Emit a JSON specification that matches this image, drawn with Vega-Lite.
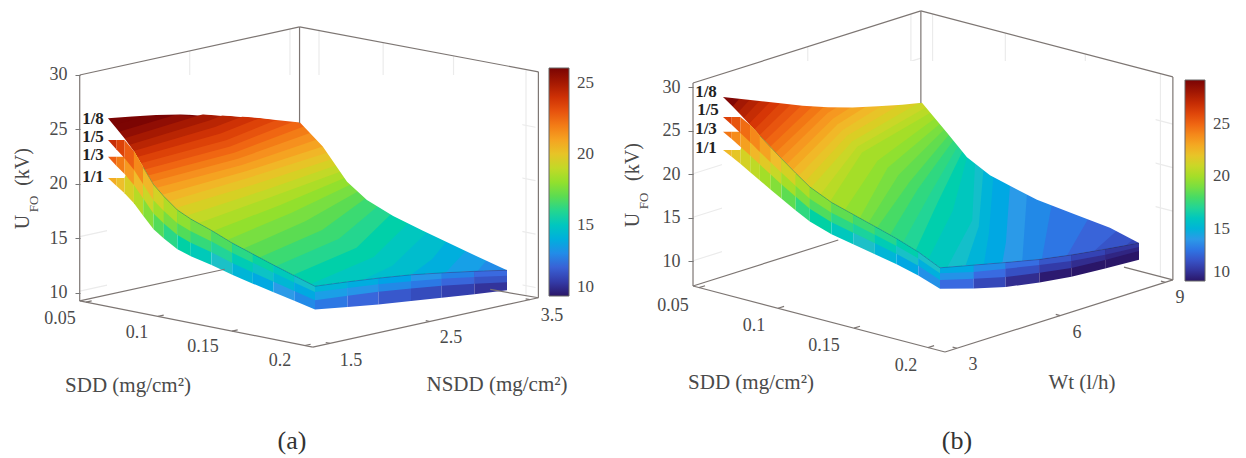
{"$schema":"https://vega.github.io/schema/vega-lite/v6.json","padding":0,"autosize":{"type":"pad"},"background":"white","spacing":8,"resolve":{"scale":{"color":"independent"},"legend":{"color":"independent"}},"config":{"view":{"stroke":null},"text":{"font":"Liberation Serif","color":"#444"}},
"datasets":{
"aIso":[{"L":26.5,"sdd":0.05,"x":1.5,"U":27.5},{"L":26.5,"sdd":0.2,"x":3.6,"U":24},
{"L":26,"sdd":0.0541,"x":1.5},{"L":26,"sdd":0.05,"x":1.9},{"L":26,"sdd":0.2,"x":3.6,"U":24},
{"L":25.5,"sdd":0.058,"x":1.5},{"L":25.5,"sdd":0.05,"x":2.206},{"L":25.5,"sdd":0.2,"x":3.6,"U":24},
{"L":25,"sdd":0.0622,"x":1.5},{"L":25,"sdd":0.05,"x":2.488},{"L":25,"sdd":0.2,"x":3.6,"U":24},
{"L":24.5,"sdd":0.0658,"x":1.5},{"L":24.5,"sdd":0.0539,"x":2.5},{"L":24.5,"sdd":0.05,"x":2.694},{"L":24.5,"sdd":0.2,"x":3.6,"U":24},
{"L":24,"sdd":0.0686,"x":1.5},{"L":24,"sdd":0.058,"x":2.5},{"L":24,"sdd":0.05,"x":2.9},{"L":24,"sdd":0.2,"x":3.6,"U":24},
{"L":23.5,"sdd":0.0712,"x":1.5},{"L":23.5,"sdd":0.0621,"x":2.5},{"L":23.5,"sdd":0.05,"x":3.08},{"L":23.5,"sdd":0.2,"x":3.6,"U":24},
{"L":23,"sdd":0.0738,"x":1.5},{"L":23,"sdd":0.0661,"x":2.5},{"L":23,"sdd":0.05,"x":3.26},{"L":23,"sdd":0.2,"x":3.6,"U":24},
{"L":22.5,"sdd":0.0765,"x":1.5},{"L":22.5,"sdd":0.069,"x":2.5},{"L":22.5,"sdd":0.05,"x":3.43},{"L":22.5,"sdd":0.2,"x":3.6,"U":24},
{"L":22,"sdd":0.0791,"x":1.5},{"L":22,"sdd":0.0719,"x":2.5},{"L":22,"sdd":0.0527,"x":3.5},{"L":22,"sdd":0.2,"x":3.6,"U":24},
{"L":21.5,"sdd":0.0817,"x":1.5},{"L":21.5,"sdd":0.0746,"x":2.5},{"L":21.5,"sdd":0.0573,"x":3.5},{"L":21.5,"sdd":0.2,"x":3.6,"U":24},
{"L":21,"sdd":0.0846,"x":1.5},{"L":21,"sdd":0.0775,"x":2.5},{"L":21,"sdd":0.0619,"x":3.5},{"L":21,"sdd":0.2,"x":3.6,"U":24},
{"L":20.5,"sdd":0.0893,"x":1.5},{"L":20.5,"sdd":0.0803,"x":2.5},{"L":20.5,"sdd":0.0665,"x":3.5},{"L":20.5,"sdd":0.2,"x":3.6,"U":24},
{"L":20,"sdd":0.0939,"x":1.5},{"L":20,"sdd":0.083,"x":2.5},{"L":20,"sdd":0.0696,"x":3.5},{"L":20,"sdd":0.2,"x":3.6,"U":24},
{"L":19.5,"sdd":0.0986,"x":1.5},{"L":19.5,"sdd":0.0873,"x":2.5},{"L":19.5,"sdd":0.0728,"x":3.5},{"L":19.5,"sdd":0.2,"x":3.6,"U":24},
{"L":19,"sdd":0.1066,"x":1.5},{"L":19,"sdd":0.0922,"x":2.5},{"L":19,"sdd":0.0759,"x":3.5},{"L":19,"sdd":0.2,"x":3.6,"U":24},
{"L":18.5,"sdd":0.1147,"x":1.5},{"L":18.5,"sdd":0.0971,"x":2.5},{"L":18.5,"sdd":0.079,"x":3.5},{"L":18.5,"sdd":0.2,"x":3.6,"U":24},
{"L":18,"sdd":0.1248,"x":1.5},{"L":18,"sdd":0.1048,"x":2.5},{"L":18,"sdd":0.0822,"x":3.5},{"L":18,"sdd":0.2,"x":3.6,"U":24},
{"L":17.5,"sdd":0.136,"x":1.5},{"L":17.5,"sdd":0.1131,"x":2.5},{"L":17.5,"sdd":0.0863,"x":3.5},{"L":17.5,"sdd":0.2,"x":3.6,"U":24},
{"L":17,"sdd":0.1478,"x":1.5},{"L":17,"sdd":0.1234,"x":2.5},{"L":17,"sdd":0.0918,"x":3.5},{"L":17,"sdd":0.2,"x":3.6,"U":24},
{"L":16.5,"sdd":0.1596,"x":1.5},{"L":16.5,"sdd":0.1356,"x":2.5},{"L":16.5,"sdd":0.0973,"x":3.5},{"L":16.5,"sdd":0.2,"x":3.6,"U":24},
{"L":16,"sdd":0.1715,"x":1.5},{"L":16,"sdd":0.1478,"x":2.5},{"L":16,"sdd":0.1061,"x":3.5},{"L":16,"sdd":0.2,"x":3.6,"U":24},
{"L":15.5,"sdd":0.1841,"x":1.5},{"L":15.5,"sdd":0.1605,"x":2.5},{"L":15.5,"sdd":0.1156,"x":3.5},{"L":15.5,"sdd":0.2,"x":3.6,"U":24},
{"L":15,"sdd":0.197,"x":1.5},{"L":15,"sdd":0.1733,"x":2.5},{"L":15,"sdd":0.1283,"x":3.5},{"L":15,"sdd":0.2,"x":3.6,"U":24},
{"L":14.5,"sdd":0.2,"x":2.0},{"L":14.5,"sdd":0.1865,"x":2.5},{"L":14.5,"sdd":0.1419,"x":3.5},{"L":14.5,"sdd":0.2,"x":3.6,"U":24},
{"L":14,"sdd":0.2,"x":2.5},{"L":14,"sdd":0.1806,"x":3.0},{"L":14,"sdd":0.1559,"x":3.5},{"L":14,"sdd":0.2,"x":3.6,"U":24},
{"L":13.5,"sdd":0.2,"x":2.86},{"L":13.5,"sdd":0.17,"x":3.5},{"L":13.5,"sdd":0.2,"x":3.6,"U":24},
{"L":13,"sdd":0.2,"x":3.19},{"L":13,"sdd":0.185,"x":3.5},{"L":13,"sdd":0.2,"x":3.6,"U":24}],
"aTop":[{"sdd":0.0493,"x":1.5,"U":26.54},{"sdd":0.05,"x":1.5,"U":26.54},{"sdd":0.05,"x":1.75,"U":26.2},{"sdd":0.05,"x":2.0,"U":25.87},{"sdd":0.05,"x":2.25,"U":25.42},{"sdd":0.05,"x":2.5,"U":24.98},{"sdd":0.05,"x":2.75,"U":24.36},{"sdd":0.05,"x":3.0,"U":23.75},{"sdd":0.05,"x":3.25,"U":23.0},{"sdd":0.05,"x":3.5,"U":22.3},{"sdd":0.0665,"x":3.5,"U":20.5},{"sdd":0.0841,"x":3.5,"U":17.7},{"sdd":0.0985,"x":3.5,"U":16.4},{"sdd":0.1175,"x":3.5,"U":15.4},{"sdd":0.1391,"x":3.5,"U":14.6},{"sdd":0.17,"x":3.5,"U":13.5},{"sdd":0.2,"x":3.5,"U":12.5},{"sdd":0.2,"x":3.66,"U":10.5}],
"aBot":[{"sdd":0.0493,"x":1.5,"U":26.54},{"sdd":0.05,"x":1.5,"U":26.54},{"sdd":0.056,"x":1.5,"U":25.76},{"sdd":0.062,"x":1.5,"U":24.98},{"sdd":0.0688,"x":1.5,"U":23.97},{"sdd":0.0755,"x":1.5,"U":22.68},{"sdd":0.083,"x":1.5,"U":21.27},{"sdd":0.0905,"x":1.5,"U":20.37},{"sdd":0.1003,"x":1.5,"U":19.37},{"sdd":0.11,"x":1.5,"U":18.79},{"sdd":0.125,"x":1.5,"U":18.12},{"sdd":0.14,"x":1.5,"U":17.34},{"sdd":0.155,"x":1.5,"U":16.7},{"sdd":0.17,"x":1.5,"U":16.07},{"sdd":0.185,"x":1.5,"U":15.47},{"sdd":0.2,"x":1.5,"U":14.88},{"sdd":0.2,"x":1.84,"U":14.63},{"sdd":0.2,"x":2.16,"U":14.35},{"sdd":0.2,"x":2.5,"U":14.0},{"sdd":0.2,"x":2.82,"U":13.56},{"sdd":0.2,"x":3.16,"U":13.05},{"sdd":0.2,"x":3.5,"U":12.5},{"sdd":0.2,"x":3.66,"U":14.5}],
"aSl":[
{"g":["a0"],"sdd":0.05,"x":1.5,"U":21.05,"T":21.05},{"g":["a0","a1"],"sdd":0.056,"x":1.5,"U":20.49,"T":21.2},{"g":["a1","a2"],"sdd":0.062,"x":1.5,"U":19.94,"T":21.35},{"g":["a2","a3"],"sdd":0.0688,"x":1.5,"U":19.2,"T":23.97},{"g":["a3","a4"],"sdd":0.0755,"x":1.5,"U":18.23,"T":22.68},{"g":["a4","a5"],"sdd":0.083,"x":1.5,"U":17.17,"T":21.27},{"g":["a5","a6"],"sdd":0.0905,"x":1.5,"U":16.51,"T":20.37},{"g":["a6","a7"],"sdd":0.1003,"x":1.5,"U":15.78,"T":19.37},{"g":["a7","a8"],"sdd":0.11,"x":1.5,"U":15.38,"T":18.79},{"g":["a8","a9"],"sdd":0.125,"x":1.5,"U":14.95,"T":18.12},{"g":["a9","a10"],"sdd":0.14,"x":1.5,"U":14.42,"T":17.34},{"g":["a10","a11"],"sdd":0.155,"x":1.5,"U":13.99,"T":16.7},{"g":["a11","a12"],"sdd":0.17,"x":1.5,"U":13.57,"T":16.07},{"g":["a12","a13"],"sdd":0.185,"x":1.5,"U":13.16,"T":15.47},{"g":["a13","a14"],"sdd":0.2,"x":1.5,"U":12.75,"T":14.88},{"g":["a14","a15"],"sdd":0.2,"x":1.84,"U":12.33,"T":14.63},{"g":["a15","a16"],"sdd":0.2,"x":2.16,"U":11.94,"T":14.35},{"g":["a16","a17"],"sdd":0.2,"x":2.5,"U":11.6,"T":14.0},{"g":["a17","a18"],"sdd":0.2,"x":2.82,"U":11.27,"T":13.56},{"g":["a18","a19"],"sdd":0.2,"x":3.16,"U":10.95,"T":13.05},{"g":["a19"],"sdd":0.2,"x":3.5,"U":10.65,"T":12.5},
{"g":["b0"],"sdd":0.05,"x":1.5,"U":23,"T":23},{"g":["b0","b1"],"sdd":0.056,"x":1.5,"U":22.33,"T":23.15},{"g":["b1","b2"],"sdd":0.062,"x":1.5,"U":21.71,"T":23.3},{"g":["b2","b3"],"sdd":0.0688,"x":1.5,"U":20.88,"T":23.97},{"g":["b3","b4"],"sdd":0.0755,"x":1.5,"U":19.81,"T":22.68},{"g":["b4","b5"],"sdd":0.083,"x":1.5,"U":18.63,"T":21.27},{"g":["b5","b6"],"sdd":0.0905,"x":1.5,"U":17.89,"T":20.37},{"g":["b6","b7"],"sdd":0.1003,"x":1.5,"U":17.07,"T":19.37},{"g":["b7","b8"],"sdd":0.11,"x":1.5,"U":16.62,"T":18.79},{"g":["b8","b9"],"sdd":0.125,"x":1.5,"U":16.12,"T":18.12},{"g":["b9","b10"],"sdd":0.14,"x":1.5,"U":15.51,"T":17.34},{"g":["b10","b11"],"sdd":0.155,"x":1.5,"U":15.02,"T":16.7},{"g":["b11","b12"],"sdd":0.17,"x":1.5,"U":14.53,"T":16.07},{"g":["b12","b13"],"sdd":0.185,"x":1.5,"U":14.06,"T":15.47},{"g":["b13","b14"],"sdd":0.2,"x":1.5,"U":13.6,"T":14.88},{"g":["b14","b15"],"sdd":0.2,"x":1.84,"U":13.36,"T":14.63},{"g":["b15","b16"],"sdd":0.2,"x":2.16,"U":13.1,"T":14.35},{"g":["b16","b17"],"sdd":0.2,"x":2.5,"U":12.75,"T":14.0},{"g":["b17","b18"],"sdd":0.2,"x":2.82,"U":12.38,"T":13.56},{"g":["b18","b19"],"sdd":0.2,"x":3.16,"U":11.9,"T":13.05},{"g":["b19"],"sdd":0.2,"x":3.5,"U":11.4,"T":12.5},
{"g":["c0"],"sdd":0.05,"x":1.5,"U":24.54,"T":24.54},{"g":["c0","c1"],"sdd":0.056,"x":1.5,"U":23.84,"T":24.69},{"g":["c1","c2"],"sdd":0.062,"x":1.5,"U":23.16,"T":24.84},{"g":["c2","c3"],"sdd":0.0688,"x":1.5,"U":22.27,"T":23.97},{"g":["c3","c4"],"sdd":0.0755,"x":1.5,"U":21.11,"T":22.68},{"g":["c4","c5"],"sdd":0.083,"x":1.5,"U":19.84,"T":21.27},{"g":["c5","c6"],"sdd":0.0905,"x":1.5,"U":19.04,"T":20.37},{"g":["c6","c7"],"sdd":0.1003,"x":1.5,"U":18.16,"T":19.37},{"g":["c7","c8"],"sdd":0.11,"x":1.5,"U":17.66,"T":18.79},{"g":["c8","c9"],"sdd":0.125,"x":1.5,"U":17.11,"T":18.12},{"g":["c9","c10"],"sdd":0.14,"x":1.5,"U":16.44,"T":17.34},{"g":["c10","c11"],"sdd":0.155,"x":1.5,"U":15.9,"T":16.7},{"g":["c11","c12"],"sdd":0.17,"x":1.5,"U":15.36,"T":16.07},{"g":["c12","c13"],"sdd":0.185,"x":1.5,"U":14.85,"T":15.47},{"g":["c13","c14"],"sdd":0.2,"x":1.5,"U":14.34,"T":14.88},{"g":["c14","c15"],"sdd":0.2,"x":1.84,"U":14.06,"T":14.63},{"g":["c15","c16"],"sdd":0.2,"x":2.16,"U":13.78,"T":14.35},{"g":["c16","c17"],"sdd":0.2,"x":2.5,"U":13.4,"T":14.0},{"g":["c17","c18"],"sdd":0.2,"x":2.82,"U":13.02,"T":13.56},{"g":["c18","c19"],"sdd":0.2,"x":3.16,"U":12.52,"T":13.05},{"g":["c19"],"sdd":0.2,"x":3.5,"U":12.0,"T":12.5}],
"aBox":[{"k":"1","sdd":0.0455,"x":1.27,"U":10.1},{"k":"1","sdd":0.0455,"x":1.27,"U":30.83},
{"k":"2","sdd":0.0455,"x":1.27,"U":30.83},{"k":"2","sdd":0.0455,"x":3.56,"U":30.83},
{"k":"3","sdd":0.0455,"x":3.56,"U":30.83},{"k":"3","sdd":0.0455,"x":3.56,"U":22.0},
{"k":"4","sdd":0.0455,"x":3.56,"U":30.83},{"k":"4","sdd":0.2144,"x":3.62,"U":30.83},
{"k":"5","sdd":0.2144,"x":3.62,"U":30.83},{"k":"5","sdd":0.2144,"x":3.62,"U":10.1},
{"k":"6","sdd":0.0455,"x":1.27,"U":10.1},{"k":"6","sdd":0.0455,"x":2.78,"U":10.1},
{"k":"7","sdd":0.0455,"x":1.27,"U":10.1},{"k":"7","sdd":0.2144,"x":1.27,"U":10.1},
{"k":"8","sdd":0.2144,"x":1.27,"U":10.1},{"k":"8","sdd":0.2144,"x":3.62,"U":10.1},
{"k":"9","sdd":0.1816,"x":3.59,"U":10.1},{"k":"9","sdd":0.2144,"x":3.62,"U":10.1},
{"k":"t1","sdd":0.05,"x":1.27,"U":10.1},{"k":"t1","sdd":0.05,"x":1.33,"U":10.1},
{"k":"t2","sdd":0.1022,"x":1.27,"U":10.1},{"k":"t2","sdd":0.1022,"x":1.33,"U":10.1},
{"k":"t3","sdd":0.1558,"x":1.27,"U":10.1},{"k":"t3","sdd":0.1558,"x":1.33,"U":10.1},
{"k":"t4","sdd":0.2087,"x":1.27,"U":10.1},{"k":"t4","sdd":0.2087,"x":1.33,"U":10.1},
{"k":"t5","sdd":0.2144,"x":1.448,"U":10.1},{"k":"t5","sdd":0.2114,"x":1.448,"U":10.1},
{"k":"t6","sdd":0.2144,"x":2.49,"U":10.1},{"k":"t6","sdd":0.2114,"x":2.49,"U":10.1},
{"k":"t7","sdd":0.2144,"x":3.53,"U":10.1},{"k":"t7","sdd":0.2114,"x":3.53,"U":10.1}],
"aGrid":[{"k":"g1","sdd":0.0455,"x":2.416,"U":30.83},{"k":"g1","sdd":0.0455,"x":2.416,"U":24.95},
{"k":"g2","sdd":0.0455,"x":3.46,"U":30.83},{"k":"g2","sdd":0.0455,"x":3.46,"U":22.4},
{"k":"g3","sdd":0.0575,"x":3.59,"U":30.83},{"k":"g3","sdd":0.0575,"x":3.59,"U":21.2},
{"k":"g4","sdd":0.104,"x":3.59,"U":30.83},{"k":"g4","sdd":0.104,"x":3.59,"U":15.26},
{"k":"g5","sdd":0.155,"x":3.59,"U":30.83},{"k":"g5","sdd":0.155,"x":3.59,"U":13.15},
{"k":"g6","sdd":0.2075,"x":3.59,"U":30.83},{"k":"g6","sdd":0.2075,"x":3.59,"U":10.1},
{"k":"h1","sdd":0.0575,"x":3.59,"U":25.8},{"k":"h1","sdd":0.2144,"x":3.59,"U":25.8},
{"k":"h2","sdd":0.068,"x":3.59,"U":20.9},{"k":"h2","sdd":0.2144,"x":3.59,"U":20.9},
{"k":"h3","sdd":0.101,"x":3.59,"U":16},{"k":"h3","sdd":0.2144,"x":3.59,"U":16},
{"k":"h4","sdd":0.1925,"x":3.59,"U":11.1},{"k":"h4","sdd":0.2144,"x":3.59,"U":11.1},
{"k":"l1","sdd":0.0455,"x":1.9,"U":25.8},{"k":"l1","sdd":0.0455,"x":3.56,"U":25.8},
{"k":"l2","sdd":0.0455,"x":1.27,"U":16},{"k":"l2","sdd":0.0455,"x":2.0,"U":16},
{"k":"l3","sdd":0.0455,"x":1.27,"U":11},{"k":"l3","sdd":0.0455,"x":2.46,"U":11}],
"aTxt":[{"t":"0.05","h":0.6,"v":7.61},{"t":"0.1","h":1.37,"v":6.33},{"t":"0.15","h":2.03,"v":5.05},{"t":"0.2","h":2.8,"v":3.76},{"t":"1.5","h":3.51,"v":3.76},{"t":"2.5","h":4.51,"v":5.87},{"t":"3.5","h":5.52,"v":7.89}],
"aTit":[{"t":"SDD (mg/cm²)","h":1.28,"v":1.47},{"t":"NSDD (mg/cm²)","h":4.97,"v":1.56}],
"aBold":[{"t":"1/8","h":0.93,"v":25.96},{"t":"1/5","h":0.93,"v":24.31},{"t":"1/3","h":0.93,"v":22.66},{"t":"1/1","h":0.93,"v":20.64}],
"bIso":[{"L":29,"sdd":0.05,"wt":3,"U":30.5},{"L":29,"sdd":0.2,"wt":9.36,"U":29.5},
{"L":28,"sdd":0.0567,"wt":3},{"L":28,"sdd":0.05,"wt":3.49},{"L":28,"sdd":0.2,"wt":9.36,"U":29.5},
{"L":27.5,"sdd":0.0605,"wt":3},{"L":27.5,"sdd":0.05,"wt":3.8},{"L":27.5,"sdd":0.2,"wt":9.36,"U":29.5},
{"L":27,"sdd":0.0643,"wt":3},{"L":27,"sdd":0.05,"wt":4.1},{"L":27,"sdd":0.2,"wt":9.36,"U":29.5},
{"L":26.5,"sdd":0.068,"wt":3},{"L":26.5,"sdd":0.05,"wt":4.41},{"L":26.5,"sdd":0.2,"wt":9.36,"U":29.5},
{"L":26,"sdd":0.0716,"wt":3},{"L":26,"sdd":0.05,"wt":4.72},{"L":26,"sdd":0.2,"wt":9.36,"U":29.5},
{"L":25.5,"sdd":0.0752,"wt":3},{"L":25.5,"sdd":0.05,"wt":5.05},{"L":25.5,"sdd":0.2,"wt":9.36,"U":29.5},
{"L":25,"sdd":0.0789,"wt":3},{"L":25,"sdd":0.05,"wt":5.38},{"L":25,"sdd":0.2,"wt":9.36,"U":29.5},
{"L":24.5,"sdd":0.0826,"wt":3},{"L":24.5,"sdd":0.05,"wt":5.71},{"L":24.5,"sdd":0.2,"wt":9.36,"U":29.5},
{"L":24,"sdd":0.0864,"wt":3},{"L":24,"sdd":0.05,"wt":6.04},{"L":24,"sdd":0.2,"wt":9.36,"U":29.5},
{"L":23.5,"sdd":0.0902,"wt":3},{"L":23.5,"sdd":0.0536,"wt":6},{"L":23.5,"sdd":0.05,"wt":6.46},{"L":23.5,"sdd":0.2,"wt":9.36,"U":29.5},
{"L":23,"sdd":0.0941,"wt":3},{"L":23,"sdd":0.0572,"wt":6},{"L":23,"sdd":0.05,"wt":6.88},{"L":23,"sdd":0.2,"wt":9.36,"U":29.5},
{"L":22.5,"sdd":0.0981,"wt":3},{"L":22.5,"sdd":0.0605,"wt":6},{"L":22.5,"sdd":0.05,"wt":7.33},{"L":22.5,"sdd":0.2,"wt":9.36,"U":29.5},
{"L":22,"sdd":0.1022,"wt":3},{"L":22,"sdd":0.0639,"wt":6},{"L":22,"sdd":0.05,"wt":7.78},{"L":22,"sdd":0.2,"wt":9.36,"U":29.5},
{"L":21.5,"sdd":0.1064,"wt":3},{"L":21.5,"sdd":0.0672,"wt":6},{"L":21.5,"sdd":0.05,"wt":8.34},{"L":21.5,"sdd":0.2,"wt":9.36,"U":29.5},
{"L":21,"sdd":0.1107,"wt":3},{"L":21,"sdd":0.0706,"wt":6},{"L":21,"sdd":0.05,"wt":8.9},{"L":21,"sdd":0.2,"wt":9.36,"U":29.5},
{"L":20.5,"sdd":0.1173,"wt":3},{"L":20.5,"sdd":0.074,"wt":6},{"L":20.5,"sdd":0.0529,"wt":9},{"L":20.5,"sdd":0.2,"wt":9.36,"U":29.5},
{"L":20,"sdd":0.124,"wt":3},{"L":20,"sdd":0.0773,"wt":6},{"L":20,"sdd":0.0558,"wt":9},{"L":20,"sdd":0.2,"wt":9.36,"U":29.5},
{"L":19.5,"sdd":0.1342,"wt":3},{"L":19.5,"sdd":0.088,"wt":6},{"L":19.5,"sdd":0.059,"wt":9},{"L":19.5,"sdd":0.2,"wt":9.36,"U":29.5},
{"L":19,"sdd":0.1445,"wt":3},{"L":19,"sdd":0.095,"wt":6},{"L":19,"sdd":0.0622,"wt":9},{"L":19,"sdd":0.2,"wt":9.36,"U":29.5},
{"L":18.5,"sdd":0.1498,"wt":3},{"L":18.5,"sdd":0.1025,"wt":6},{"L":18.5,"sdd":0.0653,"wt":9},{"L":18.5,"sdd":0.2,"wt":9.36,"U":29.5},
{"L":18,"sdd":0.155,"wt":3},{"L":18,"sdd":0.11,"wt":6},{"L":18,"sdd":0.0685,"wt":9},{"L":18,"sdd":0.2,"wt":9.36,"U":29.5},
{"L":17.5,"sdd":0.164,"wt":3},{"L":17.5,"sdd":0.116,"wt":6},{"L":17.5,"sdd":0.0716,"wt":9},{"L":17.5,"sdd":0.2,"wt":9.36,"U":29.5},
{"L":17,"sdd":0.173,"wt":3},{"L":17,"sdd":0.1235,"wt":6},{"L":17,"sdd":0.0748,"wt":9},{"L":17,"sdd":0.2,"wt":9.36,"U":29.5},
{"L":16.5,"sdd":0.182,"wt":3},{"L":16.5,"sdd":0.1295,"wt":6},{"L":16.5,"sdd":0.0779,"wt":9},{"L":16.5,"sdd":0.2,"wt":9.36,"U":29.5},
{"L":16,"sdd":0.191,"wt":3},{"L":16,"sdd":0.14,"wt":6},{"L":16,"sdd":0.0811,"wt":9},{"L":16,"sdd":0.2,"wt":9.36,"U":29.5},
{"L":15.5,"sdd":0.2,"wt":3.22},{"L":15.5,"sdd":0.1535,"wt":6},{"L":15.5,"sdd":0.0867,"wt":9},{"L":15.5,"sdd":0.2,"wt":9.36,"U":29.5},
{"L":15,"sdd":0.2,"wt":3.77},{"L":15,"sdd":0.158,"wt":6},{"L":15,"sdd":0.0924,"wt":9},{"L":15,"sdd":0.2,"wt":9.36,"U":29.5},
{"L":14.5,"sdd":0.2,"wt":4.32},{"L":14.5,"sdd":0.165,"wt":6},{"L":14.5,"sdd":0.0993,"wt":9},{"L":14.5,"sdd":0.2,"wt":9.36,"U":29.5},
{"L":14,"sdd":0.2,"wt":4.88},{"L":14,"sdd":0.1768,"wt":6},{"L":14,"sdd":0.1108,"wt":9},{"L":14,"sdd":0.2,"wt":9.36,"U":29.5},
{"L":13.5,"sdd":0.2,"wt":5.48},{"L":13.5,"sdd":0.1225,"wt":9},{"L":13.5,"sdd":0.2,"wt":9.36,"U":29.5},
{"L":13,"sdd":0.2,"wt":6.07},{"L":13,"sdd":0.1395,"wt":9},{"L":13,"sdd":0.2,"wt":9.36,"U":29.5},
{"L":12.5,"sdd":0.2,"wt":6.83},{"L":12.5,"sdd":0.1647,"wt":9},{"L":12.5,"sdd":0.2,"wt":9.36,"U":29.5},
{"L":12,"sdd":0.2,"wt":7.63},{"L":12,"sdd":0.1844,"wt":9},{"L":12,"sdd":0.2,"wt":9.36,"U":29.5},
{"L":11.5,"sdd":0.2,"wt":8.61},{"L":11.5,"sdd":0.1955,"wt":9},{"L":11.5,"sdd":0.2,"wt":9.36,"U":29.5}],
"bTop":[{"sdd":0.0493,"wt":3,"U":28.8},{"sdd":0.05,"wt":3,"U":28.8},{"sdd":0.05,"wt":3.83,"U":27.45},{"sdd":0.05,"wt":4.66,"U":26.1},{"sdd":0.05,"wt":5.4,"U":24.9},{"sdd":0.05,"wt":6.17,"U":23.8},{"sdd":0.05,"wt":6.9,"U":22.9},{"sdd":0.05,"wt":7.67,"U":22.1},{"sdd":0.05,"wt":8.4,"U":21.4},{"sdd":0.05,"wt":9,"U":20.9},{"sdd":0.0575,"wt":9,"U":19.73},{"sdd":0.0673,"wt":9,"U":18.2},{"sdd":0.0811,"wt":9,"U":16},{"sdd":0.097,"wt":9,"U":14.6},{"sdd":0.1157,"wt":9,"U":13.79},{"sdd":0.1295,"wt":9,"U":13.2},{"sdd":0.155,"wt":9,"U":12.69},{"sdd":0.1799,"wt":9,"U":12.2},{"sdd":0.2,"wt":9,"U":11.3},{"sdd":0.2,"wt":9.5,"U":9.3}],
"bBot":[{"sdd":0.0493,"wt":3,"U":28.8},{"sdd":0.05,"wt":3,"U":28.8},{"sdd":0.056,"wt":3,"U":28.08},{"sdd":0.062,"wt":3,"U":27.3},{"sdd":0.0688,"wt":3,"U":26.39},{"sdd":0.0755,"wt":3,"U":25.46},{"sdd":0.083,"wt":3,"U":24.45},{"sdd":0.0905,"wt":3,"U":23.47},{"sdd":0.1003,"wt":3,"U":22.24},{"sdd":0.11,"wt":3,"U":21.08},{"sdd":0.125,"wt":3,"U":19.95},{"sdd":0.14,"wt":3,"U":19.22},{"sdd":0.155,"wt":3,"U":18.49},{"sdd":0.17,"wt":3,"U":17.75},{"sdd":0.185,"wt":3,"U":16.87},{"sdd":0.2,"wt":3,"U":15.7},{"sdd":0.2,"wt":4.02,"U":14.78},{"sdd":0.2,"wt":4.98,"U":13.92},{"sdd":0.2,"wt":6,"U":13.04},{"sdd":0.2,"wt":6.96,"U":12.4},{"sdd":0.2,"wt":7.98,"U":11.83},{"sdd":0.2,"wt":9,"U":11.3},{"sdd":0.2,"wt":9.5,"U":13.3}],
"bSl":[
{"g":["a0"],"sdd":0.05,"wt":3,"U":22.7,"T":22.7},{"g":["a0","a1"],"sdd":0.056,"wt":3,"U":22.19,"T":22.96},{"g":["a1","a2"],"sdd":0.062,"wt":3,"U":21.64,"T":23.22},{"g":["a2","a3"],"sdd":0.0688,"wt":3,"U":20.98,"T":26.39},{"g":["a3","a4"],"sdd":0.0755,"wt":3,"U":20.31,"T":25.46},{"g":["a4","a5"],"sdd":0.083,"wt":3,"U":19.57,"T":24.45},{"g":["a5","a6"],"sdd":0.0905,"wt":3,"U":18.86,"T":23.47},{"g":["a6","a7"],"sdd":0.1003,"wt":3,"U":17.95,"T":22.24},{"g":["a7","a8"],"sdd":0.11,"wt":3,"U":17.09,"T":21.08},{"g":["a8","a9"],"sdd":0.125,"wt":3,"U":16.29,"T":19.95},{"g":["a9","a10"],"sdd":0.14,"wt":3,"U":15.8,"T":19.22},{"g":["a10","a11"],"sdd":0.155,"wt":3,"U":15.31,"T":18.49},{"g":["a11","a12"],"sdd":0.17,"wt":3,"U":14.8,"T":17.75},{"g":["a12","a13"],"sdd":0.185,"wt":3,"U":14.16,"T":16.87},{"g":["a13","a14"],"sdd":0.2,"wt":3,"U":13.3,"T":15.7},{"g":["a14","a15"],"sdd":0.2,"wt":4.02,"U":12.1,"T":14.78},{"g":["a15","a16"],"sdd":0.2,"wt":4.98,"U":11.1,"T":13.92},{"g":["a16","a17"],"sdd":0.2,"wt":6,"U":10.4,"T":13.04},{"g":["a17","a18"],"sdd":0.2,"wt":6.96,"U":9.9,"T":12.4},{"g":["a18","a19"],"sdd":0.2,"wt":7.98,"U":9.6,"T":11.83},{"g":["a19"],"sdd":0.2,"wt":9,"U":9.4,"T":11.3},
{"g":["b0"],"sdd":0.05,"wt":3,"U":24.8,"T":24.8},{"g":["b0","b1"],"sdd":0.056,"wt":3,"U":24.23,"T":25.06},{"g":["b1","b2"],"sdd":0.062,"wt":3,"U":23.61,"T":25.32},{"g":["b2","b3"],"sdd":0.0688,"wt":3,"U":22.89,"T":26.39},{"g":["b3","b4"],"sdd":0.0755,"wt":3,"U":22.14,"T":25.46},{"g":["b4","b5"],"sdd":0.083,"wt":3,"U":21.32,"T":24.45},{"g":["b5","b6"],"sdd":0.0905,"wt":3,"U":20.52,"T":23.47},{"g":["b6","b7"],"sdd":0.1003,"wt":3,"U":19.52,"T":22.24},{"g":["b7","b8"],"sdd":0.11,"wt":3,"U":18.57,"T":21.08},{"g":["b8","b9"],"sdd":0.125,"wt":3,"U":17.68,"T":19.95},{"g":["b9","b10"],"sdd":0.14,"wt":3,"U":17.12,"T":19.22},{"g":["b10","b11"],"sdd":0.155,"wt":3,"U":16.57,"T":18.49},{"g":["b11","b12"],"sdd":0.17,"wt":3,"U":15.99,"T":17.75},{"g":["b12","b13"],"sdd":0.185,"wt":3,"U":15.28,"T":16.87},{"g":["b13","b14"],"sdd":0.2,"wt":3,"U":14.3,"T":15.7},{"g":["b14","b15"],"sdd":0.2,"wt":4.02,"U":13.2,"T":14.78},{"g":["b15","b16"],"sdd":0.2,"wt":4.98,"U":12.25,"T":13.92},{"g":["b16","b17"],"sdd":0.2,"wt":6,"U":11.5,"T":13.04},{"g":["b17","b18"],"sdd":0.2,"wt":6.96,"U":10.9,"T":12.4},{"g":["b18","b19"],"sdd":0.2,"wt":7.98,"U":10.6,"T":11.83},{"g":["b19"],"sdd":0.2,"wt":9,"U":10.4,"T":11.3},
{"g":["c0"],"sdd":0.05,"wt":3,"U":26.5,"T":26.5},{"g":["c0","c1"],"sdd":0.056,"wt":3,"U":25.88,"T":26.76},{"g":["c1","c2"],"sdd":0.062,"wt":3,"U":25.2,"T":27.02},{"g":["c2","c3"],"sdd":0.0688,"wt":3,"U":24.41,"T":26.39},{"g":["c3","c4"],"sdd":0.0755,"wt":3,"U":23.6,"T":25.46},{"g":["c4","c5"],"sdd":0.083,"wt":3,"U":22.71,"T":24.45},{"g":["c5","c6"],"sdd":0.0905,"wt":3,"U":21.85,"T":23.47},{"g":["c6","c7"],"sdd":0.1003,"wt":3,"U":20.76,"T":22.24},{"g":["c7","c8"],"sdd":0.11,"wt":3,"U":19.73,"T":21.08},{"g":["c8","c9"],"sdd":0.125,"wt":3,"U":18.75,"T":19.95},{"g":["c9","c10"],"sdd":0.14,"wt":3,"U":18.14,"T":19.22},{"g":["c10","c11"],"sdd":0.155,"wt":3,"U":17.53,"T":18.49},{"g":["c11","c12"],"sdd":0.17,"wt":3,"U":16.9,"T":17.75},{"g":["c12","c13"],"sdd":0.185,"wt":3,"U":16.13,"T":16.87},{"g":["c13","c14"],"sdd":0.2,"wt":3,"U":15.07,"T":15.7},{"g":["c14","c15"],"sdd":0.2,"wt":4.02,"U":14.0,"T":14.78},{"g":["c15","c16"],"sdd":0.2,"wt":4.98,"U":13.2,"T":13.92},{"g":["c16","c17"],"sdd":0.2,"wt":6,"U":12.4,"T":13.04},{"g":["c17","c18"],"sdd":0.2,"wt":6.96,"U":11.7,"T":12.4},{"g":["c18","c19"],"sdd":0.2,"wt":7.98,"U":11.2,"T":11.83},{"g":["c19"],"sdd":0.2,"wt":9,"U":10.85,"T":11.3}],
"bBox":[{"k":"1","sdd":0.0389,"wt":2.58,"U":7.1},{"k":"1","sdd":0.0389,"wt":2.58,"U":30.43},
{"k":"2","sdd":0.0389,"wt":2.58,"U":30.43},{"k":"2","sdd":0.0389,"wt":9.45,"U":30.43},
{"k":"3","sdd":0.0389,"wt":9.45,"U":30.43},{"k":"3","sdd":0.0389,"wt":9.45,"U":19.85},
{"k":"4","sdd":0.0389,"wt":9.45,"U":30.43},{"k":"4","sdd":0.2131,"wt":9.45,"U":30.43},
{"k":"5","sdd":0.2131,"wt":9.45,"U":30.43},{"k":"5","sdd":0.2131,"wt":9.45,"U":7.1},
{"k":"6","sdd":0.0389,"wt":2.58,"U":7.1},{"k":"6","sdd":0.0389,"wt":6.96,"U":7.1},
{"k":"7","sdd":0.0389,"wt":2.58,"U":7.1},{"k":"7","sdd":0.2131,"wt":2.58,"U":7.1},
{"k":"8","sdd":0.2131,"wt":2.58,"U":7.1},{"k":"8","sdd":0.2131,"wt":9.45,"U":7.1},
{"k":"9","sdd":0.1793,"wt":9.45,"U":7.1},{"k":"9","sdd":0.2131,"wt":9.45,"U":7.1},
{"k":"t1","sdd":0.0431,"wt":2.58,"U":7.1},{"k":"t1","sdd":0.0431,"wt":2.76,"U":7.1},
{"k":"t2","sdd":0.0977,"wt":2.58,"U":7.1},{"k":"t2","sdd":0.0977,"wt":2.76,"U":7.1},
{"k":"t3","sdd":0.1502,"wt":2.58,"U":7.1},{"k":"t3","sdd":0.1502,"wt":2.76,"U":7.1},
{"k":"t4","sdd":0.2014,"wt":2.58,"U":7.1},{"k":"t4","sdd":0.2014,"wt":2.76,"U":7.1},
{"k":"t5","sdd":0.2131,"wt":2.94,"U":7.1},{"k":"t5","sdd":0.2101,"wt":2.94,"U":7.1},
{"k":"t6","sdd":0.2131,"wt":6.05,"U":7.1},{"k":"t6","sdd":0.2101,"wt":6.05,"U":7.1},
{"k":"t7","sdd":0.2131,"wt":9.22,"U":7.1},{"k":"t7","sdd":0.2101,"wt":9.22,"U":7.1}],
"bGrid":[{"k":"g1","sdd":0.047,"wt":9.45,"U":30.43},{"k":"g1","sdd":0.047,"wt":9.45,"U":19.4},
{"k":"g2","sdd":0.0973,"wt":9.45,"U":30.43},{"k":"g2","sdd":0.0973,"wt":9.45,"U":13.08},
{"k":"g3","sdd":0.1526,"wt":9.45,"U":30.43},{"k":"g3","sdd":0.1526,"wt":9.45,"U":11.35},
{"k":"g4","sdd":0.2045,"wt":9.45,"U":30.43},{"k":"g4","sdd":0.2045,"wt":9.45,"U":7.1},
{"k":"g5","sdd":0.0389,"wt":6.04,"U":30.43},{"k":"g5","sdd":0.0389,"wt":6.04,"U":23.73},
{"k":"g6","sdd":0.0389,"wt":9.15,"U":30.43},{"k":"g6","sdd":0.0389,"wt":9.15,"U":20.2},
{"k":"h1","sdd":0.047,"wt":9.45,"U":25},{"k":"h1","sdd":0.2131,"wt":9.45,"U":25},
{"k":"h2","sdd":0.05,"wt":9.45,"U":20},{"k":"h2","sdd":0.2131,"wt":9.45,"U":20},
{"k":"h3","sdd":0.071,"wt":9.45,"U":15},{"k":"h3","sdd":0.2131,"wt":9.45,"U":15},
{"k":"l1","sdd":0.0389,"wt":5.22,"U":25},{"k":"l1","sdd":0.0389,"wt":9.45,"U":25},
{"k":"l2","sdd":0.0389,"wt":2.58,"U":20},{"k":"l2","sdd":0.0389,"wt":3.87,"U":20},
{"k":"l3","sdd":0.0389,"wt":2.58,"U":15},{"k":"l3","sdd":0.0389,"wt":4.9,"U":15},
{"k":"l4","sdd":0.0389,"wt":2.58,"U":10},{"k":"l4","sdd":0.0389,"wt":6,"U":10}],
"bTxt":[{"t":"0.05","h":0.49,"v":4.83},{"t":"0.1","h":1.3,"v":2.53},{"t":"0.15","h":2.0,"v":0.23},{"t":"0.2","h":2.82,"v":-2.07},{"t":"3","h":3.49,"v":-1.95},{"t":"6","h":4.53,"v":1.72},{"t":"9","h":5.56,"v":5.75}],
"bTit":[{"t":"SDD (mg/cm²)","h":1.27,"v":-4.02},{"t":"Wt (l/h)","h":4.58,"v":-4.02}],
"bBold":[{"t":"1/8","h":0.82,"v":29.4},{"t":"1/5","h":0.84,"v":27.3},{"t":"1/3","h":0.82,"v":25.17},{"t":"1/1","h":0.82,"v":22.99}]
},
"hconcat":[
{"width":615,"height":458,
"encoding":{"x":{"field":"h","type":"quantitative","scale":{"domain":[0,6.15],"nice":false,"zero":false},"axis":null},"y":{"field":"v","type":"quantitative","scale":{"domain":[-5.14,36.88],"nice":false,"zero":false},"stack":null,"axis":{"values":[10,15,20,25,30],"domain":false,"grid":false,"title":null,"offset":-80,"labelFont":"Liberation Serif","labelFontSize":18,"labelColor":"#4a4a4a","tickColor":"#777","tickSize":5,"labelPadding":8,"zindex":1}}},
"layer":[
{"data":{"name":"aGrid"},"transform":[{"calculate":"1.08+2.07*(datum.sdd-0.05)/0.15+1.92*(datum.x-1.5)/2","as":"h"},{"calculate":"datum.U-0.5-3.76*(datum.sdd-0.05)/0.15+3.85*(datum.x-1.5)/2","as":"v"}],"mark":{"type":"line","color":"#ebebeb","strokeWidth":1.2},"encoding":{"detail":{"field":"k"}}},
{"data":{"name":"aIso"},"transform":[{"calculate":"1.08+2.07*(datum.sdd-0.05)/0.15+1.92*(datum.x-1.5)/2","as":"h"},{"calculate":"(isValid(datum.U)?datum.U:datum.L)-0.5-3.76*(datum.sdd-0.05)/0.15+3.85*(datum.x-1.5)/2","as":"v"}],"mark":{"type":"area"},
"encoding":{"y2":{"datum":2},"detail":{"field":"L","type":"nominal"},
"color":{"field":"L","type":"quantitative","scale":{"type":"linear","clamp":true,"domain":[10,11.12,12.25,13.37,14.65,15.78,16.9,18.03,19.15,20.27,21.4,22.68,23.8,24.93,26.05],"range":["#2a1668","#3340b0","#3a6ae0","#2c9be8","#1fc0c8","#22d49a","#55dc55","#94e02c","#c8d828","#efbe2c","#f79420","#ee5e12","#d63606","#a81a02","#7a0403"]},"legend":{"title":null,"orient":"none","legendX":549,"legendY":68,"direction":"vertical","type":"gradient","gradientLength":228,"gradientThickness":20,"values":[10,15,20,25],"labelFont":"Liberation Serif","labelFontSize":17,"labelColor":"#4a4a4a","labelOffset":8,"gradientStrokeColor":"#666","gradientStrokeWidth":1}}}},
{"data":{"name":"aTop"},"transform":[{"calculate":"1.08+2.07*(datum.sdd-0.05)/0.15+1.92*(datum.x-1.5)/2","as":"h"},{"calculate":"datum.U-0.5-3.76*(datum.sdd-0.05)/0.15+3.85*(datum.x-1.5)/2","as":"v"}],"mark":{"type":"area","color":"white"},"encoding":{"y2":{"datum":30}}},
{"data":{"name":"aBot"},"transform":[{"calculate":"1.08+2.07*(datum.sdd-0.05)/0.15+1.92*(datum.x-1.5)/2","as":"h"},{"calculate":"datum.U-0.5-3.76*(datum.sdd-0.05)/0.15+3.85*(datum.x-1.5)/2","as":"v"}],"mark":{"type":"area","color":"white"},"encoding":{"y2":{"datum":1.5}}},
{"data":{"name":"aSl"},"transform":[{"flatten":["g"]},{"joinaggregate":[{"op":"mean","field":"U","as":"c"}],"groupby":["g"]},{"calculate":"1.08+2.07*(datum.sdd-0.05)/0.15+1.92*(datum.x-1.5)/2","as":"h"},{"calculate":"datum.U-0.5-3.76*(datum.sdd-0.05)/0.15+3.85*(datum.x-1.5)/2","as":"v"},{"calculate":"datum.T-0.5-3.76*(datum.sdd-0.05)/0.15+3.85*(datum.x-1.5)/2","as":"v2"}],"mark":{"type":"area"},"encoding":{"y2":{"field":"v2"},"detail":{"field":"g","type":"nominal"},
"color":{"field":"c","type":"quantitative","scale":{"type":"linear","clamp":true,"domain":[10,11.12,12.25,13.37,14.65,15.78,16.9,18.03,19.15,20.27,21.4,22.68,23.8,24.93,26.05],"range":["#2a1668","#3340b0","#3a6ae0","#2c9be8","#1fc0c8","#22d49a","#55dc55","#94e02c","#c8d828","#efbe2c","#f79420","#ee5e12","#d63606","#a81a02","#7a0403"]},"legend":null}}},
{"data":{"name":"aBot"},"transform":[{"filter":"datum.x<=3.5&&datum.sdd>=0.07"},{"calculate":"1.08+2.07*(datum.sdd-0.05)/0.15+1.92*(datum.x-1.5)/2","as":"h"},{"calculate":"datum.U-0.5-3.76*(datum.sdd-0.05)/0.15+3.85*(datum.x-1.5)/2","as":"v"}],"mark":{"type":"line","color":"#12304a","strokeWidth":1,"opacity":0.3}},
{"data":{"name":"aBox"},"transform":[{"calculate":"1.08+2.07*(datum.sdd-0.05)/0.15+1.92*(datum.x-1.5)/2","as":"h"},{"calculate":"datum.U-0.5-3.76*(datum.sdd-0.05)/0.15+3.85*(datum.x-1.5)/2","as":"v"}],"mark":{"type":"line","color":"#7d7673","strokeWidth":1.2},"encoding":{"detail":{"field":"k"}}},
{"data":{"name":"aTxt"},"mark":{"type":"text","fontSize":18,"font":"Liberation Serif","color":"#4a4a4a"},"encoding":{"text":{"field":"t"}}},
{"data":{"name":"aTit"},"mark":{"type":"text","fontSize":21,"font":"Liberation Serif","color":"#4a4a4a"},"encoding":{"text":{"field":"t"}}},
{"data":{"name":"aBold"},"mark":{"type":"text","fontSize":17,"fontWeight":"bold","font":"Liberation Serif","color":"#222"},"encoding":{"text":{"field":"t"}}},
{"data":{"values":[{"t":"(a)","h":2.92,"v":-3.58}]},"mark":{"type":"text","fontSize":26,"font":"Liberation Serif","color":"#333"},"encoding":{"text":{"field":"t"}}},
{"data":{"values":[{"t":"U","h":0.23,"v":16.51},{"t":"(kV)","h":0.23,"v":21.56}]},"mark":{"type":"text","fontSize":20,"angle":270,"font":"Liberation Serif","color":"#4a4a4a"},"encoding":{"text":{"field":"t"}}},
{"data":{"values":[{"t":"FO","h":0.34,"v":18.17}]},"mark":{"type":"text","fontSize":13,"angle":270,"font":"Liberation Serif","color":"#4a4a4a"},"encoding":{"text":{"field":"t"}}}
]},
{"width":623,"height":458,
"encoding":{"x":{"field":"h","type":"quantitative","scale":{"domain":[0,6.23],"nice":false,"zero":false},"axis":null},"y":{"field":"v","type":"quantitative","scale":{"domain":[-12.64,40],"nice":false,"zero":false},"stack":null,"axis":{"values":[10,15,20,25,30],"domain":false,"grid":false,"title":null,"offset":-69,"labelFont":"Liberation Serif","labelFontSize":18,"labelColor":"#4a4a4a","tickColor":"#777","tickSize":5,"labelPadding":8,"zindex":1}}},
"layer":[
{"data":{"name":"bGrid"},"transform":[{"calculate":"0.99+2.17*(datum.sdd-0.05)/0.15+1.99*(datum.wt-3)/6","as":"h"},{"calculate":"datum.U+0.05-6.53*(datum.sdd-0.05)/0.15+7.24*(datum.wt-3)/6","as":"v"}],"mark":{"type":"line","color":"#ebebeb","strokeWidth":1.2},"encoding":{"detail":{"field":"k"}}},
{"data":{"name":"bIso"},"transform":[{"calculate":"0.99+2.17*(datum.sdd-0.05)/0.15+1.99*(datum.wt-3)/6","as":"h"},{"calculate":"(isValid(datum.U)?datum.U:datum.L)+0.05-6.53*(datum.sdd-0.05)/0.15+7.24*(datum.wt-3)/6","as":"v"}],"mark":{"type":"area"},
"encoding":{"y2":{"datum":-6},"detail":{"field":"L","type":"nominal"},
"color":{"field":"L","type":"quantitative","scale":{"type":"linear","clamp":true,"domain":[10,11.34,12.69,14.03,15.57,16.91,18.26,19.6,20.94,22.29,23.63,25.17,26.51,27.86,29.2],"range":["#2a1668","#3340b0","#3a6ae0","#2c9be8","#1fc0c8","#22d49a","#55dc55","#94e02c","#c8d828","#efbe2c","#f79420","#ee5e12","#d63606","#a81a02","#7a0403"]},"legend":{"title":null,"orient":"none","legendX":561,"legendY":80,"direction":"vertical","type":"gradient","gradientLength":201,"gradientThickness":20,"values":[10,15,20,25],"labelFont":"Liberation Serif","labelFontSize":17,"labelColor":"#4a4a4a","labelOffset":8,"gradientStrokeColor":"#666","gradientStrokeWidth":1}}}},
{"data":{"name":"bTop"},"transform":[{"calculate":"0.99+2.17*(datum.sdd-0.05)/0.15+1.99*(datum.wt-3)/6","as":"h"},{"calculate":"datum.U+0.05-6.53*(datum.sdd-0.05)/0.15+7.24*(datum.wt-3)/6","as":"v"}],"mark":{"type":"area","color":"white"},"encoding":{"y2":{"datum":33}}},
{"data":{"name":"bBot"},"transform":[{"calculate":"0.99+2.17*(datum.sdd-0.05)/0.15+1.99*(datum.wt-3)/6","as":"h"},{"calculate":"datum.U+0.05-6.53*(datum.sdd-0.05)/0.15+7.24*(datum.wt-3)/6","as":"v"}],"mark":{"type":"area","color":"white"},"encoding":{"y2":{"datum":-7}}},
{"data":{"name":"bSl"},"transform":[{"flatten":["g"]},{"joinaggregate":[{"op":"mean","field":"U","as":"c"}],"groupby":["g"]},{"calculate":"0.99+2.17*(datum.sdd-0.05)/0.15+1.99*(datum.wt-3)/6","as":"h"},{"calculate":"datum.U+0.05-6.53*(datum.sdd-0.05)/0.15+7.24*(datum.wt-3)/6","as":"v"},{"calculate":"datum.T+0.05-6.53*(datum.sdd-0.05)/0.15+7.24*(datum.wt-3)/6","as":"v2"}],"mark":{"type":"area"},"encoding":{"y2":{"field":"v2"},"detail":{"field":"g","type":"nominal"},
"color":{"field":"c","type":"quantitative","scale":{"type":"linear","clamp":true,"domain":[10,11.34,12.69,14.03,15.57,16.91,18.26,19.6,20.94,22.29,23.63,25.17,26.51,27.86,29.2],"range":["#2a1668","#3340b0","#3a6ae0","#2c9be8","#1fc0c8","#22d49a","#55dc55","#94e02c","#c8d828","#efbe2c","#f79420","#ee5e12","#d63606","#a81a02","#7a0403"]},"legend":null}}},
{"data":{"name":"bBot"},"transform":[{"filter":"datum.wt<=9&&datum.sdd>=0.07"},{"calculate":"0.99+2.17*(datum.sdd-0.05)/0.15+1.99*(datum.wt-3)/6","as":"h"},{"calculate":"datum.U+0.05-6.53*(datum.sdd-0.05)/0.15+7.24*(datum.wt-3)/6","as":"v"}],"mark":{"type":"line","color":"#12304a","strokeWidth":1,"opacity":0.3}},
{"data":{"name":"bBox"},"transform":[{"calculate":"0.99+2.17*(datum.sdd-0.05)/0.15+1.99*(datum.wt-3)/6","as":"h"},{"calculate":"datum.U+0.05-6.53*(datum.sdd-0.05)/0.15+7.24*(datum.wt-3)/6","as":"v"}],"mark":{"type":"line","color":"#7d7673","strokeWidth":1.2},"encoding":{"detail":{"field":"k"}}},
{"data":{"name":"bTxt"},"mark":{"type":"text","fontSize":18,"font":"Liberation Serif","color":"#4a4a4a"},"encoding":{"text":{"field":"t"}}},
{"data":{"name":"bTit"},"mark":{"type":"text","fontSize":21,"font":"Liberation Serif","color":"#4a4a4a"},"encoding":{"text":{"field":"t"}}},
{"data":{"name":"bBold"},"mark":{"type":"text","fontSize":17,"fontWeight":"bold","font":"Liberation Serif","color":"#222"},"encoding":{"text":{"field":"t"}}},
{"data":{"values":[{"t":"(b)","h":3.33,"v":-10.69}]},"mark":{"type":"text","fontSize":26,"font":"Liberation Serif","color":"#333"},"encoding":{"text":{"field":"t"}}},
{"data":{"values":[{"t":"U","h":0.09,"v":14.71},{"t":"(kV)","h":0.09,"v":21.38}]},"mark":{"type":"text","fontSize":20,"angle":270,"font":"Liberation Serif","color":"#4a4a4a"},"encoding":{"text":{"field":"t"}}},
{"data":{"values":[{"t":"FO","h":0.2,"v":16.9}]},"mark":{"type":"text","fontSize":13,"angle":270,"font":"Liberation Serif","color":"#4a4a4a"},"encoding":{"text":{"field":"t"}}}
]}
]}
